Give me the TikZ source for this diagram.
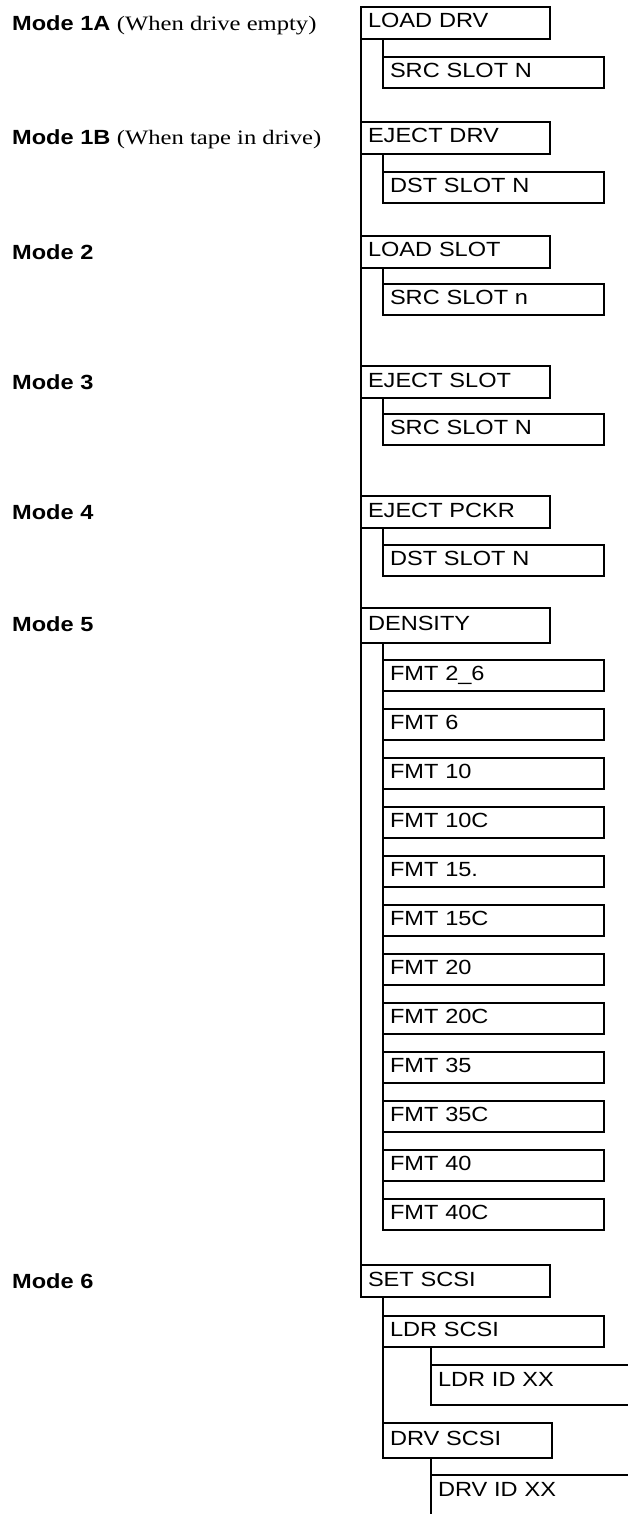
\documentclass[tikz,border=0pt]{standalone}
\usepackage{fontspec}
\newfontfamily\panelfont{Liberation Sans}[FakeStretch=1.15]
\newfontfamily\notefont{Liberation Serif}[FakeStretch=1.2]
\usepackage{tikz}

\begin{document}
\begin{tikzpicture}[
  x=1pt, y=-1pt,
  menubox/.style={rectangle, draw, line width=1.3pt, outer sep=0pt,
    anchor=north west, text width=175pt, inner xsep=7pt, align=left,
    minimum height=32pt, text height=14pt, text depth=4pt,
    font=\panelfont\fontsize{20.5}{23}\selectfont},
  subbox/.style={menubox, text width=207pt, minimum height=31pt},
  idbox/.style={menubox, text width=220pt, minimum height=40pt, text depth=12pt},
  modelbl/.style={anchor=base west, inner sep=0pt,
    font=\panelfont\fontsize{20.5}{23}\selectfont},
  link/.style={line width=1.3pt}
]
  \clip (0,0) rectangle (628,1514);

  % mode labels
  \node[modelbl] (m1a) at (12,31)   {{\bfseries Mode 1A} {\notefont (When drive empty)}};
  \node[modelbl] (m1b) at (12,145)  {{\bfseries Mode 1B} {\notefont (When tape in drive)}};
  \node[modelbl] (m2)  at (12,259)  {\bfseries Mode 2};
  \node[modelbl] (m3)  at (12,389)  {\bfseries Mode 3};
  \node[modelbl] (m4)  at (12,519)  {\bfseries Mode 4};
  \node[modelbl] (m5)  at (12,631)  {\bfseries Mode 5};
  \node[modelbl] (m6)  at (12,1288) {\bfseries Mode 6};

  % menu entries
  \node[menubox] (ldrv)      at (361,7)   {LOAD DRV};
  \node[subbox]  (ldrvsrc)   at (383,57)  {SRC SLOT N};
  \node[menubox] (ejdrv)     at (361,122) {EJECT DRV};
  \node[subbox]  (ejdrvdst)  at (383,172) {DST SLOT N};
  \node[menubox] (ldslot)    at (361,236) {LOAD SLOT};
  \node[subbox]  (ldslotsrc) at (383,284) {SRC SLOT n};
  \node[menubox] (ejslot)    at (361,366) {EJECT SLOT};
  \node[subbox]  (ejslotsrc) at (383,414) {SRC SLOT N};
  \node[menubox] (ejpckr)    at (361,496) {EJECT PCKR};
  \node[subbox]  (ejpckrdst) at (383,545) {DST SLOT N};
  \node[menubox, minimum height=35pt] (density) at (361,608) {DENSITY};
  \foreach \fmt [count=\i] in {2\_6, 6, 10, 10C, 15., 15C, 20, 20C, 35, 35C, 40, 40C}
    \node[subbox] (fmt\i) at (383,611+49*\i) {FMT \fmt};

  \node[menubox] (setscsi) at (361,1265) {SET SCSI};
  \node[subbox]  (ldrscsi) at (383,1316) {LDR SCSI};
  \node[idbox]   (ldrid)   at (431,1365) {LDR ID XX};
  \node[subbox, text width=155pt, minimum height=35pt] (drvscsi) at (383,1423) {DRV SCSI};
  \node[idbox]   (drvid)   at (431,1475) {DRV ID XX};

  % tree lines
  \draw[link] (ldrv.south west) -- (setscsi.north west);
  \foreach \p/\c in {ldrv/ldrvsrc, ejdrv/ejdrvdst, ldslot/ldslotsrc,
      ejslot/ejslotsrc, ejpckr/ejpckrdst, density/fmt12,
      setscsi/drvscsi, ldrscsi/ldrid, drvscsi/drvid}
    \draw[link] (\p.south -| \c.west) -- (\c.north west);
\end{tikzpicture}
\end{document}
